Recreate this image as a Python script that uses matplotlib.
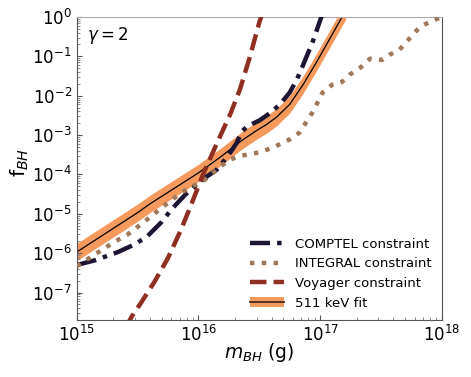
import matplotlib
matplotlib.use("Agg")
import matplotlib.pyplot as plt
import numpy as np
from matplotlib.patches import Patch
from matplotlib.lines import Line2D

# values, as log10(mass in g) and log10(f_BH)
comptel_logm = [15.00, 15.15, 15.34, 15.48, 15.58, 15.70, 15.78, 15.89, 16.00, 16.07,
                16.15, 16.24, 16.31, 16.36, 16.40, 16.50, 16.59, 16.67, 16.75, 16.81,
                16.86, 16.94, 17.01, 17.03]
comptel_logf = [-6.30, -6.18, -5.97, -5.77, -5.57, -5.20, -4.88, -4.52, -4.22, -4.05,
                -3.88, -3.54, -3.22, -2.90, -2.78, -2.63, -2.44, -2.22, -1.92, -1.58,
                -1.22, -0.62, 0.00, 0.10]

integral_logm = [15.00, 15.15, 15.29, 15.42, 15.56, 15.70, 15.85, 15.95, 16.035, 16.18,
                 16.26, 16.36, 16.50, 16.61, 16.75, 16.83, 16.94, 17.02, 17.10, 17.18,
                 17.24, 17.33, 17.41, 17.51, 17.57, 17.65, 17.71, 17.76, 17.82, 17.90, 18.00]
integral_logf = [-6.33, -6.03, -5.75, -5.52, -5.19, -4.84, -4.48, -4.30, -4.18, -3.80,
                 -3.62, -3.52, -3.44, -3.32, -3.11, -2.94, -2.41, -1.92, -1.72, -1.65,
                 -1.47, -1.29, -1.06, -1.09, -0.96, -0.84, -0.63, -0.46, -0.25, -0.13, 0.00]

voyager_logm = [15.40, 15.45, 15.53, 15.64, 15.75, 15.85, 15.93, 16.035, 16.15, 16.26,
                16.34, 16.42, 16.50, 16.53]
voyager_logf = [-7.90, -7.62, -7.25, -6.72, -6.12, -5.45, -4.85, -4.02, -3.22, -2.48,
                -1.85, -1.04, -0.14, 0.15]

fit_logm = [15.00, 15.50, 15.60, 16.00, 16.18, 16.36, 16.48, 16.56, 16.64, 16.75,
            16.86, 16.97, 17.08, 17.18, 17.21]
fit_logf = [-5.97, -4.97, -4.75, -3.96, -3.56, -3.13, -2.88, -2.73, -2.55, -2.22,
            -1.72, -1.15, -0.55, 0.00, 0.15]
fit_band_dex = 0.22  # half width of the orange band

xlim = (1e15, 1e18)
ylim = (2e-8, 1.0)
xticks = [1e15, 1e16, 1e17, 1e18]
yticks = [1e-7, 1e-6, 1e-5, 1e-4, 1e-3, 1e-2, 1e-1, 1e0]

c_comptel = "#1e1433"
c_integral = "#a0785a"
c_voyager = "#8e2f22"
c_band = "#f59a5d"

fig = plt.figure(figsize=(4.71, 3.77), dpi=100)
ax = fig.add_axes([0.163, 0.151, 0.775, 0.804])

fit_m = 10.0 ** np.array(fit_logm)
fit_f = 10.0 ** np.array(fit_logf)
ax.fill_between(fit_m, fit_f * 10 ** -fit_band_dex, fit_f * 10 ** fit_band_dex,
                color=c_band, linewidth=0, zorder=1)
ax.plot(fit_m, fit_f, color="black", linewidth=0.9, zorder=2)

comptel_dash = (4.5, 1.6, 1.0, 1.6)
ax.plot(10.0 ** np.array(comptel_logm), 10.0 ** np.array(comptel_logf),
        color=c_comptel, linewidth=3.2, linestyle=(0, comptel_dash), zorder=3)
ax.plot(10.0 ** np.array(integral_logm), 10.0 ** np.array(integral_logf),
        color=c_integral, linewidth=3.2, linestyle="dotted", zorder=3)
ax.plot(10.0 ** np.array(voyager_logm), 10.0 ** np.array(voyager_logf),
        color=c_voyager, linewidth=3.2, linestyle="dashed", zorder=3)

ax.set_xscale("log")
ax.set_yscale("log")
ax.set_xticks(xticks)
ax.set_yticks(yticks)
ax.set_xlim(*xlim)
ax.set_ylim(*ylim)
ax.set_xlabel("$m_{BH}$ (g)", fontsize=13.5)
ax.set_ylabel("f$_{BH}$", fontsize=14.5)
ax.xaxis.set_label_coords(0.5, -0.07)
ax.yaxis.set_label_coords(-0.125, 0.52)
ax.tick_params(axis="both", which="major", direction="in", labelsize=12,
               length=3.5, pad=3.5, color="#555555")
ax.tick_params(axis="both", which="minor", direction="in", length=2, color="#777777")
for name, spine in ax.spines.items():
    spine.set_color("#555555")
ax.spines["top"].set_color("#aaaaaa")

ax.text(0.027, 0.975, r"$\gamma = 2$", transform=ax.transAxes, fontsize=12,
        ha="left", va="top")

handles = [
    Line2D([], [], color=c_comptel, linewidth=3.2, linestyle=(0, comptel_dash)),
    Line2D([], [], color=c_integral, linewidth=3.2, linestyle="dotted"),
    Line2D([], [], color=c_voyager, linewidth=3.2, linestyle="dashed"),
    (Patch(color=c_band, linewidth=0), Line2D([], [], color="#4a2a1a", linewidth=1.3)),
]
labels = ["COMPTEL constraint", "INTEGRAL constraint", "Voyager constraint", "511 keV fit"]
ax.legend(handles, labels, loc="lower right", frameon=False, fontsize=9.5,
          handlelength=2.6, labelspacing=0.5, borderaxespad=0.4)

fig.savefig("out.png", dpi=100)
